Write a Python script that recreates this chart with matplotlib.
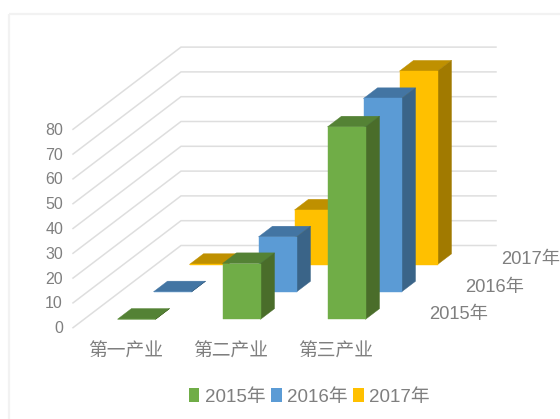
import matplotlib
matplotlib.use("Agg")
import matplotlib.pyplot as plt
from matplotlib.patches import Patch, Rectangle

plt.rcParams['font.family'] = ['Liberation Sans', 'Noto Sans CJK SC', 'DejaVu Sans']

categories = ['第一产业', '第二产业', '第三产业']
series_names = ['2015年', '2016年', '2017年']
values_2015 = [0.05, 22.5, 77.6]
values_2016 = [0.05, 22.2, 78.0]
values_2017 = [0.05, 22.0, 78.0]
series_values = [values_2015, values_2016, values_2017]
y_ticks = [0, 10, 20, 30, 40, 50, 60, 70, 80]

face = ['#70AD47', '#5B9BD5', '#FFC000']
top = ['#548235', '#4375A3', '#BF9000']
side = ['#4A6D2A', '#3A6488', '#A17A00']
GRID = '#DEDEDE'
TEXT = '#7F7F7F'

# oblique projection (pixels)
X0, Y0 = 73.0, 327.7
CAT_W = 105.0
ROW_DX, ROW_DY = 36.0, -27.4
UNIT = 2.48
BAR_W = 38.0
GAP_X = (CAT_W - BAR_W) / 2
BAR_D = 14.0 / ROW_DX      # bar depth as a share of a row
BAR_D0 = (1 - BAR_D) / 2


def proj(x, row, v):
    return X0 + x * CAT_W + row * ROW_DX, Y0 + row * ROW_DY - v * UNIT


fig = plt.figure(figsize=(5.6, 4.19), dpi=100)
ax = fig.add_axes([0, 0, 1, 1])
ax.set_xlim(0, 560)
ax.set_ylim(419, 0)
ax.axis('off')

# outer chart frame
ax.add_patch(Rectangle((9, 14.5), 560, 420, fc='none', ec='#F2F2F2', lw=1.6, zorder=0))

# gridlines and value ticks
n_rows = len(series_names)
n_cats = len(categories)
for t in y_ticks:
    pts = [proj(0, 0, t), proj(0, n_rows, t), proj(n_cats, n_rows, t)]
    ax.plot([p[0] for p in pts], [p[1] for p in pts], color=GRID, lw=1.1,
            solid_joinstyle='miter', zorder=1)
    x, y = proj(0, 0, t)
    ax.text(x - 10, y + 1.0, str(t), ha='right', va='center', fontsize=11.5, color=TEXT)

# bars, painted from back to front
z = 2
for r in reversed(range(n_rows)):
    for c in range(n_cats):
        v = series_values[r][c]
        x0 = c + GAP_X / CAT_W
        x1 = x0 + BAR_W / CAT_W
        d0 = r + BAR_D0
        d1 = d0 + BAR_D
        quads = [
            ([proj(x0, d0, v), proj(x1, d0, v), proj(x1, d1, v), proj(x0, d1, v)], top[r]),
            ([proj(x1, d0, 0), proj(x1, d1, 0), proj(x1, d1, v), proj(x1, d0, v)], side[r]),
            ([proj(x0, d0, 0), proj(x1, d0, 0), proj(x1, d0, v), proj(x0, d0, v)], face[r]),
        ]
        for pts, col in quads:
            ax.fill([p[0] for p in pts], [p[1] for p in pts], color=col, lw=0.3, zorder=z)
        z += 1

# category labels
for c, name in enumerate(categories):
    x, y = proj(c + 0.5, 0, 0)
    ax.text(x, y + 24, name, ha='center', va='center', fontsize=13.5, color=TEXT,
            fontweight='light')

# series labels on the depth axis
for r, name in enumerate(series_names):
    x, y = proj(n_cats, r, 0)
    ax.text(x + 41, y - 13, name, ha='left', va='center', fontsize=13.2, color=TEXT)

handles = [Patch(fc=f, ec='none') for f in face]
fig.legend(handles, series_names, loc='center', bbox_to_anchor=(309.5 / 560, 1 - 397 / 419),
           ncol=3, frameon=False, fontsize=13.5, labelcolor=TEXT, handlelength=0.55,
           handleheight=0.7, handletextpad=0.3, columnspacing=0.3, borderpad=0)

fig.savefig('out.png', dpi=100)
